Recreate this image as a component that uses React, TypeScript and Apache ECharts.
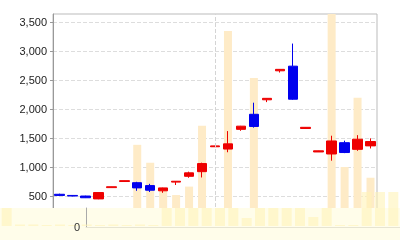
import React, { useEffect, useRef } from "react";
import * as echarts from "echarts";

const categories = [
  "D1", "D2", "D3", "D4", "D5", "D6", "D7", "D8", "D9", "D10",
  "D11", "D12", "D13", "D14", "D15", "D16", "D17", "D18", "D19", "D20",
  "D21", "D22", "D23", "D24", "D25",
];

// [open, close, low, high]
const ohlc = [
  [530, 510, 500, 540],
  [510, 500, 495, 515],
  [500, 470, 465, 505],
  [450, 560, 445, 565],
  [645, 660, 645, 662],
  [750, 765, 750, 767],
  [730, 640, 590, 745],
  [680, 600, 570, 710],
  [590, 640, 555, 645],
  [740, 755, 690, 757],
  [840, 900, 815, 920],
  [920, 1060, 820, 1075],
  [1350, 1365, 1350, 1367],
  [1310, 1400, 1255, 1620],
  [1650, 1705, 1625, 1710],
  [1910, 1700, 1680, 2110],
  [2160, 2185, 2120, 2190],
  [2660, 2685, 2630, 2690],
  [2740, 2170, 2160, 3130],
  [1665, 1685, 1665, 1690],
  [1260, 1280, 1260, 1282],
  [1225, 1450, 1110, 1540],
  [1420, 1250, 1240, 1455],
  [1305, 1480, 1280, 1550],
  [1365, 1440, 1320, 1495],
];

const volumes = [
  4, 4, 3, 5, 4, 5, 38, 29.5, 17.5, 14.2, 18.2, 47, 6, 92, 5, 69.7, 5, 6, 7, 5, 4, 100,
  27.5, 60.3, 22.4,
];

const shadowCategories = Array.from({ length: 30 }, (_, i) => "S" + (i + 1));
const shadowValues = [
  18, 1.5, 1.5, 1, 1.5, 1, 1.5, 1, 1.5, 1, 1.5, 1, 18, 18, 18, 18, 18, 18, 8, 18, 18, 18,
  18, 9, 18, 1, 1, 34, 34, 34,
];

const yTicks = { min: 0, max: 3640, interval: 500 };
const markCategory = "D13";

export default function App() {
  const ref = useRef<HTMLDivElement>(null);
  useEffect(() => {
    if (!ref.current) return;
    const chart = echarts.init(ref.current, null, { renderer: "svg" });
    chart.setOption({
      animation: false,
      grid: [
        { left: 53, right: 23, top: 14, bottom: 15, show: true, borderColor: "#bbb", borderWidth: 1 },
        { left: 86, right: 0, top: 208, bottom: 13 },
        { left: 0, right: 0, top: 190, bottom: 14 },
      ],
      graphic: {
        elements: [
          {
            type: "rect",
            z: 50,
            shape: { x: 0, y: 208, width: 400, height: 32 },
            style: { fill: "#fffdea" },
          },
        ],
      },
      xAxis: [
        {
          type: "category",
          gridIndex: 0,
          data: categories,
          boundaryGap: true,
          axisLine: { show: false },
          axisTick: { show: false },
          axisLabel: { show: false },
          splitLine: { show: false },
        },
        {
          type: "category",
          gridIndex: 1,
          data: categories,
          z: 60,
          axisLine: { show: true, lineStyle: { color: "#e6e4d2" } },
          axisTick: { show: false },
          axisLabel: { show: false },
        },
        {
          type: "category",
          gridIndex: 2,
          data: shadowCategories,
          show: false,
        },
      ],
      yAxis: [
        {
          type: "value",
          gridIndex: 0,
          min: yTicks.min,
          max: yTicks.max,
          interval: yTicks.interval,
          axisLine: { show: true, lineStyle: { color: "#999" } },
          axisTick: { show: true, length: 3, lineStyle: { color: "#999" } },
          axisLabel: {
            color: "#222",
            fontSize: 11,
            margin: 6,
            showMaxLabel: false,
            formatter: (v: number) => v.toLocaleString("en-US"),
          },
          splitLine: { show: true, lineStyle: { color: "#ddd", type: "dashed" } },
        },
        {
          type: "value",
          gridIndex: 0,
          min: 0,
          max: 100,
          show: false,
          splitLine: { show: false },
        },
        {
          type: "value",
          gridIndex: 1,
          min: 0,
          max: 1,
          interval: 1,
          z: 60,
          axisLine: { show: true, lineStyle: { color: "#aaa" } },
          axisTick: { show: false },
          axisLabel: { color: "#333", fontSize: 11, margin: 6, showMaxLabel: false },
          splitLine: { show: false },
        },
        {
          type: "value",
          gridIndex: 2,
          min: 0,
          max: 36,
          show: false,
          splitLine: { show: false },
        },
      ],
      series: [
        {
          type: "bar",
          xAxisIndex: 0,
          yAxisIndex: 1,
          data: volumes,
          barWidth: 8,
          z: 1,
          itemStyle: { color: "#feebc7" },
        },
        {
          type: "candlestick",
          xAxisIndex: 0,
          yAxisIndex: 0,
          data: ohlc,
          barWidth: 10,
          z: 3,
          itemStyle: {
            color: "#ee0000",
            color0: "#0000ee",
            borderColor: "#ee0000",
            borderColor0: "#0000ee",
            borderWidth: 1,
          },
          markLine: {
            silent: true,
            symbol: ["none", "none"],
            label: { show: false },
            lineStyle: { color: "#d4d4d4", type: "dashed", width: 1 },
            data: [{ xAxis: markCategory }],
          },
        },
        {
          type: "bar",
          xAxisIndex: 2,
          yAxisIndex: 3,
          data: shadowValues,
          barWidth: 10,
          z: 60,
          itemStyle: { color: "#fff4b8", opacity: 0.6 },
        },
      ],
    });
    return () => chart.dispose();
  }, []);
  return (
    <div
      ref={ref}
      style={{ position: "fixed", left: 0, top: 0, width: 400, height: 240 }}
    />
  );
}
